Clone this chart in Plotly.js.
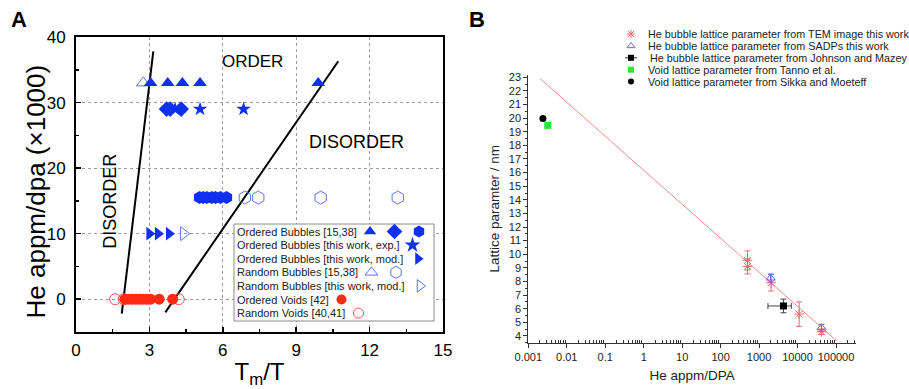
<!DOCTYPE html>
<html><head><meta charset="utf-8">
<script src="https://cdn.plot.ly/plotly-3.0.1.min.js"></script>
<style>html,body{margin:0;padding:0;background:#fff;}#chart{width:909px;height:389px;}</style>
</head><body><div id="chart"></div>
<script>
// ================= Panel A data (Tm/T vs He appm/dpa x1000) =================
const aOrdTriX   = [3.05, 3.75, 4.35, 5.07, 9.9];
const aOrdTriY   = [33, 33, 33, 33, 33];
const aRandTriX  = [2.75];
const aRandTriY  = [33];
const aOrdDiaX   = [3.7, 3.85, 4.3];
const aOrdDiaY   = [29, 29, 29];
const aStarX     = [4.05, 5.07, 6.85];
const aStarY     = [29, 29, 29];
const aOrdHexX   = [5.05, 5.2, 5.35, 5.55, 5.7, 5.9, 6.15];
const aOrdHexY   = [15.5, 15.5, 15.5, 15.5, 15.5, 15.5, 15.5];
const aRandHexX  = [6.9, 7.45, 10.0, 13.15];
const aRandHexY  = [15.5, 15.5, 15.5, 15.5];
const aModTriX   = [3.0, 3.35, 3.8];
const aModTriY   = [10, 10, 10];
const aModOpenX  = [4.4];
const aModOpenY  = [10];
const aOrdVoidX  = [2.0, 2.15, 2.3, 2.45, 2.6, 2.75, 2.9, 3.05, 3.4, 3.95];
const aOrdVoidY  = [0, 0, 0, 0, 0, 0, 0, 0, 0, 0];
const aRandVoidX = [1.6, 1.95, 4.2];
const aRandVoidY = [0, 0, 0];
const aLine1X = [1.87, 3.16];
const aLine1Y = [-2.2, 37.8];
const aLine2X = [3.65, 10.72];
const aLine2Y = [-2.0, 36.3];
const aYTitle = 'He appm/dpa (×1000)';
const aXTitle = 'T<sub>m</sub>/T';
const aLegendLabels = [
  'Ordered Bubbles [15,38]',
  'Ordered Bubbles [this work, exp.]',
  'Ordered Bubbles [this work, mod.]',
  'Random Bubbles [15,38]',
  'Random Bubbles [this work, mod.]',
  'Ordered Voids [42]',
  'Random Voids [40,41]'
];

// ================= Panel B data =================
const temX   = [500, 500, 2050, 11000, 42000];
const temY   = [9.55, 9.1, 7.9, 5.6, 4.3];
const temErr = [0.7, 0.55, 0.6, 0.9, 0.2];
const sadpX   = [2000, 42000];
const sadpY   = [8.25, 4.6];
const sadpErr = [0.3, 0.25];
const jmX    = [4300];
const jmY    = [6.2];
const jmErrY = [0.5];
const jmErrX = [2600];
const tannoX = [0.0032];
const tannoY = [19.47];
const sikkaX = [0.0024];
const sikkaY = [19.98];
const fitX = [0.002, 105000];
const fitY = [22.92, 3.62];
const bTickVals = [0.001, 0.01, 0.1, 1, 10, 100, 1000, 10000, 100000];
const bTickText = ['0.001', '0.01', '0.1', '1', '10', '100', '1000', '10000', '100000'];
const bLegendLabels = [
  'He bubble lattice parameter from TEM image this work',
  'He bubble lattice parameter from SADPs this work',
  'He bubble lattice parameter from Johnson and Mazey',
  'Void lattice parameter from Tanno et al.',
  'Void lattice parameter from Sikka and Moeteff'
];

// ================= styling =================
const FONT = 'Liberation Sans, Arial, Helvetica, sans-serif';
const blue = '#1030f0', blueOpen = '#5a72f0', red = '#ff2a12', redOpen = '#f05050';
const bRed = '#f06a6a', bBlue = '#6a6ae0', bGreen = '#2ee62e';

function pts(x, y, sym, color, size, xa, ya, lw) {
  return {type: 'scatter', mode: 'markers', x: x, y: y, xaxis: xa, yaxis: ya, showlegend: false,
    hoverinfo: 'skip', cliponaxis: false,
    marker: {symbol: sym, color: color, size: size, line: {color: color, width: lw || 0}}};
}

const traces = [];
// Panel A
traces.push({type: 'scatter', mode: 'lines', x: aLine1X, y: aLine1Y, xaxis: 'x', yaxis: 'y', showlegend: false, line: {color: '#000', width: 2}});
traces.push({type: 'scatter', mode: 'lines', x: aLine2X, y: aLine2Y, xaxis: 'x', yaxis: 'y', showlegend: false, line: {color: '#000', width: 2}});
traces.push(pts(aRandVoidX, aRandVoidY, 'circle-open', redOpen, 11, 'x', 'y', 1));
traces.push(pts(aOrdVoidX, aOrdVoidY, 'circle', red, 11, 'x', 'y'));
traces.push(pts(aRandTriX, aRandTriY, 'triangle-up-open', blueOpen, 12, 'x', 'y', 1));
traces.push(pts(aOrdTriX, aOrdTriY, 'triangle-up', blue, 12, 'x', 'y'));
traces.push(pts(aOrdDiaX, aOrdDiaY, 'diamond', blue, 12, 'x', 'y'));
traces.push(pts(aStarX, aStarY, 'star', blue, 11, 'x', 'y'));
traces.push(pts(aRandHexX, aRandHexY, 'hexagon-open', blueOpen, 13, 'x', 'y', 1));
traces.push(pts(aOrdHexX, aOrdHexY, 'hexagon', blue, 13, 'x', 'y'));
traces.push(pts(aModOpenX, aModOpenY, 'triangle-right-open', blueOpen, 12, 'x', 'y', 1));
traces.push(pts(aModTriX, aModTriY, 'triangle-right', blue, 12, 'x', 'y'));

// Panel B
traces.push({type: 'scatter', mode: 'lines', x: fitX, y: fitY, xaxis: 'x2', yaxis: 'y2', showlegend: false, line: {color: '#f08a8a', width: 1}});
traces.push(Object.assign(pts(temX, temY, 'asterisk-open', bRed, 8, 'x2', 'y2', 1),
  {error_y: {type: 'data', array: temErr, color: bRed, thickness: 1, width: 3}}));
traces.push(Object.assign(pts(sadpX, sadpY, 'triangle-up-open', bBlue, 8, 'x2', 'y2', 1),
  {error_y: {type: 'data', array: sadpErr, color: bBlue, thickness: 1, width: 3}}));
traces.push(Object.assign(pts(jmX, jmY, 'square', '#000', 7, 'x2', 'y2'),
  {error_y: {type: 'data', array: jmErrY, color: '#444', thickness: 1, width: 3},
   error_x: {type: 'data', array: jmErrX, color: '#444', thickness: 1, width: 3}}));
traces.push(pts(tannoX, tannoY, 'square', bGreen, 7, 'x2', 'y2'));
traces.push(pts(sikkaX, sikkaY, 'circle', '#000', 7, 'x2', 'y2'));

// ===== Legends (pixel overlay axes x3/y3) =====
const boxA = {l: 234, t: 224, r: 434, b: 321};
traces.push({type: 'scatter', mode: 'lines', x: [boxA.l, boxA.r, boxA.r, boxA.l, boxA.l], y: [boxA.t, boxA.t, boxA.b, boxA.b, boxA.t],
  fill: 'toself', fillcolor: '#fff', line: {color: '#8a8a8a', width: 1}, xaxis: 'x3', yaxis: 'y3', showlegend: false, hoverinfo: 'skip'});
const rowA = i => 231.5 + i * 13.6;
const legASyms = [
  [0, 370, 'triangle-up', blue, 11], [0, 394.5, 'diamond', blue, 12], [0, 419, 'hexagon', blue, 12],
  [1, 412.5, 'star', blue, 12],
  [2, 418, 'triangle-right', blue, 11],
  [3, 371.5, 'triangle-up-open', blueOpen, 11], [3, 396, 'hexagon-open', blueOpen, 12],
  [4, 420, 'triangle-right-open', blueOpen, 11],
  [5, 341.5, 'circle', red, 10],
  [6, 358.5, 'circle-open', redOpen, 10]
];
legASyms.forEach(s => traces.push(pts([s[1]], [rowA(s[0])], s[2], s[3], s[4], 'x3', 'y3', s[2].indexOf('open') >= 0 ? 1 : 0)));

const rowB = i => 34 + i * 11.9;
const symX = 631;
traces.push(pts([symX], [rowB(0)], 'asterisk-open', bRed, 7, 'x3', 'y3', 1));
traces.push(pts([symX], [rowB(1)], 'triangle-up-open', bBlue, 7, 'x3', 'y3', 1));
traces.push({type: 'scatter', mode: 'lines', x: [symX - 6, symX + 6], y: [rowB(2), rowB(2)], xaxis: 'x3', yaxis: 'y3', showlegend: false, line: {color: '#333', width: 1}});
traces.push(pts([symX], [rowB(2)], 'square', '#000', 6, 'x3', 'y3'));
traces.push(pts([symX], [rowB(3)], 'square', bGreen, 6, 'x3', 'y3'));
traces.push(pts([symX], [rowB(4)], 'circle', '#000', 6, 'x3', 'y3'));

// ===== annotations =====
const ann = [];
ann.push({xref: 'paper', yref: 'paper', x: 19 / 909, y: 1 - 19 / 389, text: '<b>A</b>', showarrow: false, font: {family: FONT, size: 22, color: '#000'}, xanchor: 'center', yanchor: 'middle'});
ann.push({xref: 'paper', yref: 'paper', x: 477 / 909, y: 1 - 19 / 389, text: '<b>B</b>', showarrow: false, font: {family: FONT, size: 22, color: '#000'}, xanchor: 'center', yanchor: 'middle'});
ann.push({xref: 'paper', yref: 'paper', x: 35.5 / 909, y: 1 - 192 / 389, text: aYTitle, textangle: -90, showarrow: false,
  xanchor: 'center', yanchor: 'middle', font: {family: FONT, size: 26, color: '#000'}});
ann.push({xref: 'x', yref: 'y', x: 7.23, y: 36.2, text: 'ORDER', showarrow: false, font: {family: FONT, size: 17, color: '#000'}});
ann.push({xref: 'x', yref: 'y', x: 11.46, y: 24.06, text: 'DISORDER', showarrow: false, font: {family: FONT, size: 18, color: '#000'}});
ann.push({xref: 'x', yref: 'y', x: 1.39, y: 14.86, text: 'DISORDER', textangle: -90, showarrow: false, font: {family: FONT, size: 18, color: '#000'}});
aLegendLabels.forEach((t, i) => ann.push({xref: 'x3', yref: 'y3', x: 235, y: rowA(i), text: t, showarrow: false,
  xanchor: 'left', yanchor: 'middle', font: {family: FONT, size: 11, color: '#222'}}));
bLegendLabels.forEach((t, i) => ann.push({xref: 'x3', yref: 'y3', x: i === 2 ? 648 : 645.5, y: rowB(i), text: t, showarrow: false,
  xanchor: 'left', yanchor: 'middle', font: {family: FONT, size: 10.8, color: '#222'}}));

const bMinor = [];
for (let e = -3; e <= 5; e++) for (let d = 2; d <= 9; d++) bMinor.push(d * Math.pow(10, e));

const layout = {
  width: 909, height: 389, autosize: false,
  margin: {l: 0, r: 0, t: 0, b: 0, pad: 0},
  paper_bgcolor: '#fff', plot_bgcolor: 'rgba(0,0,0,0)',
  font: {family: FONT, color: '#000'},
  showlegend: false,
  xaxis: {domain: [76 / 909, 443 / 909], anchor: 'y', range: [0, 15], tick0: 0, dtick: 3,
    ticks: 'inside', ticklen: 5, tickwidth: 1.5, tickcolor: '#000',
    showline: true, linewidth: 2, linecolor: '#000', mirror: true,
    showgrid: true, gridcolor: '#9a9a9a', griddash: 'dot', gridwidth: 1, zeroline: false,
    tickfont: {family: FONT, size: 17, color: '#000'}, ticklabelstandoff: 2,
    minor: {dtick: 1.5, tick0: 0, ticks: 'inside', ticklen: 3, tickwidth: 1.5, tickcolor: '#000', showgrid: false},
    title: {text: aXTitle, font: {family: FONT, size: 24, color: '#000'}, standoff: 4}},
  yaxis: {domain: [57 / 389, 352 / 389], anchor: 'x', range: [-5, 40], tick0: 0, dtick: 10,
    ticks: 'inside', ticklen: 5, tickwidth: 1.5, tickcolor: '#000',
    showline: true, linewidth: 2, linecolor: '#000', mirror: true,
    showgrid: true, gridcolor: '#9a9a9a', griddash: 'dot', gridwidth: 1, zeroline: false,
    tickfont: {family: FONT, size: 17, color: '#000'}, ticklabelstandoff: 5,
    minor: {dtick: 5, tick0: 0, ticks: 'inside', ticklen: 3, tickwidth: 1.5, tickcolor: '#000', showgrid: false}},
  xaxis2: {domain: [528.3 / 909, 856 / 909], anchor: 'y2', type: 'log', range: [-3, 5.52],
    tickmode: 'array', tickvals: bTickVals, ticktext: bTickText,
    ticks: 'outside', ticklen: 4, tickwidth: 1, tickcolor: '#333',
    showline: true, linewidth: 1, linecolor: '#333', showgrid: false, zeroline: false,
    tickfont: {family: FONT, size: 11, color: '#222'},
    minor: {tickmode: 'array', tickvals: bMinor, ticks: 'inside', ticklen: 3, tickwidth: 1, tickcolor: '#333', showgrid: false},
    title: {text: 'He appm/DPA', font: {family: FONT, size: 13.5, color: '#222'}, standoff: 8}},
  yaxis2: {domain: [46.3 / 389, 314.4 / 389], anchor: 'x2', range: [3.5, 23.2], tick0: 0, dtick: 1,
    ticks: 'outside', ticklen: 4, tickwidth: 1, tickcolor: '#333',
    showline: true, linewidth: 1, linecolor: '#333', showgrid: false, zeroline: false,
    tickfont: {family: FONT, size: 11, color: '#222'},
    minor: {dtick: 0.5, tick0: 0, ticks: 'outside', ticklen: 2, tickwidth: 1, tickcolor: '#333', showgrid: false},
    title: {text: 'Lattice paramter / nm', font: {family: FONT, size: 13.5, color: '#222'}, standoff: 6}},
  xaxis3: {domain: [0, 1], anchor: 'y3', range: [0, 909], visible: false, fixedrange: true},
  yaxis3: {domain: [0, 1], anchor: 'x3', range: [389, 0], visible: false, fixedrange: true},
  annotations: ann
};

Plotly.newPlot('chart', traces, layout, {displayModeBar: false, staticPlot: true});
</script>
</body></html>
